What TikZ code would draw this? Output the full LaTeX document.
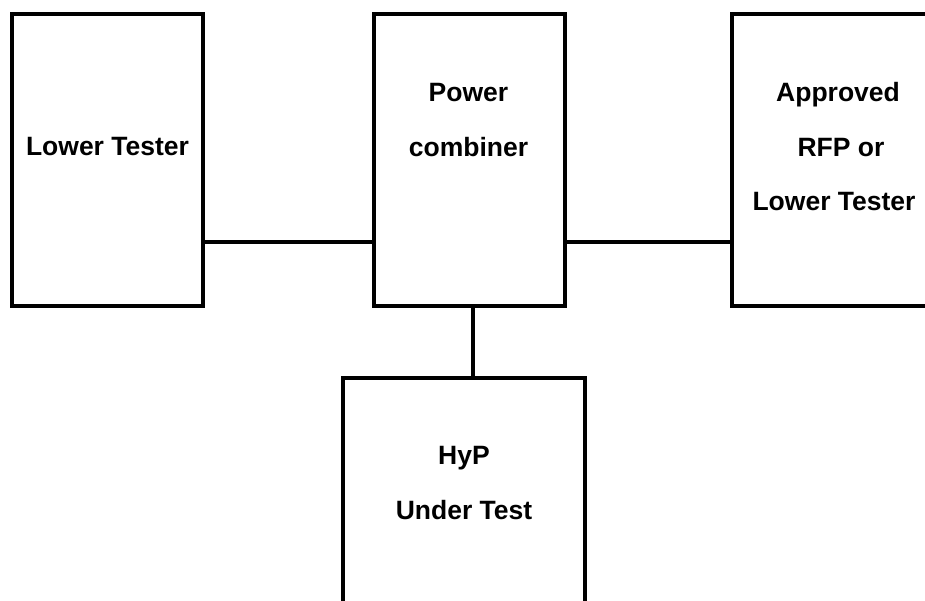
\documentclass[tikz,border=0pt]{standalone}
\usepackage{fontspec}
\setmainfont{Liberation Sans}
\begin{document}
\begin{tikzpicture}[x=1pt,y=-1pt,
  box/.style={draw,line width=4pt,rectangle,inner sep=0pt},
  lbl/.style={anchor=base,inner sep=0pt,font=\fontsize{26.5}{30}\selectfont\bfseries},
  wire/.style={line width=4pt}]
\useasboundingbox (0,0) rectangle (925,600);
\node[box,minimum width=191pt,minimum height=292pt] (lt) at (107.5,160) {};
\node[box,minimum width=191pt,minimum height=292pt] (pc) at (469.5,160) {};
\node[box,minimum width=236pt,minimum height=292pt] (rfp) at (850,160) {};
\node[box,minimum width=242pt,minimum height=262pt] (hyp) at (464,509) {};
\node[lbl] (t1) at (107.5,155) {Lower Tester};
\node[lbl] (t2) at (468.5,101) {Power};
\node[lbl] (t3) at (468.5,156) {combiner};
\node[lbl] (t4) at (838,101) {Approved};
\node[lbl] (t5) at (841,156) {RFP or};
\node[lbl] (t6) at (834,210) {Lower Tester};
\node[lbl] (t7) at (464,464) {HyP};
\node[lbl] (t8) at (464,519) {Under Test};
\coordinate (a1) at (lt.east |- 0,242);
\coordinate (a2) at (pc.west |- 0,242);
\coordinate (b1) at (pc.east |- 0,242);
\coordinate (b2) at (rfp.west |- 0,242);
\coordinate (c1) at (473,0 |- pc.south);
\coordinate (c2) at (473,0 |- hyp.north);
\draw[wire] (a1) -- (a2);
\draw[wire] (b1) -- (b2);
\draw[wire] (c1) -- (c2);
\end{tikzpicture}
\end{document}
